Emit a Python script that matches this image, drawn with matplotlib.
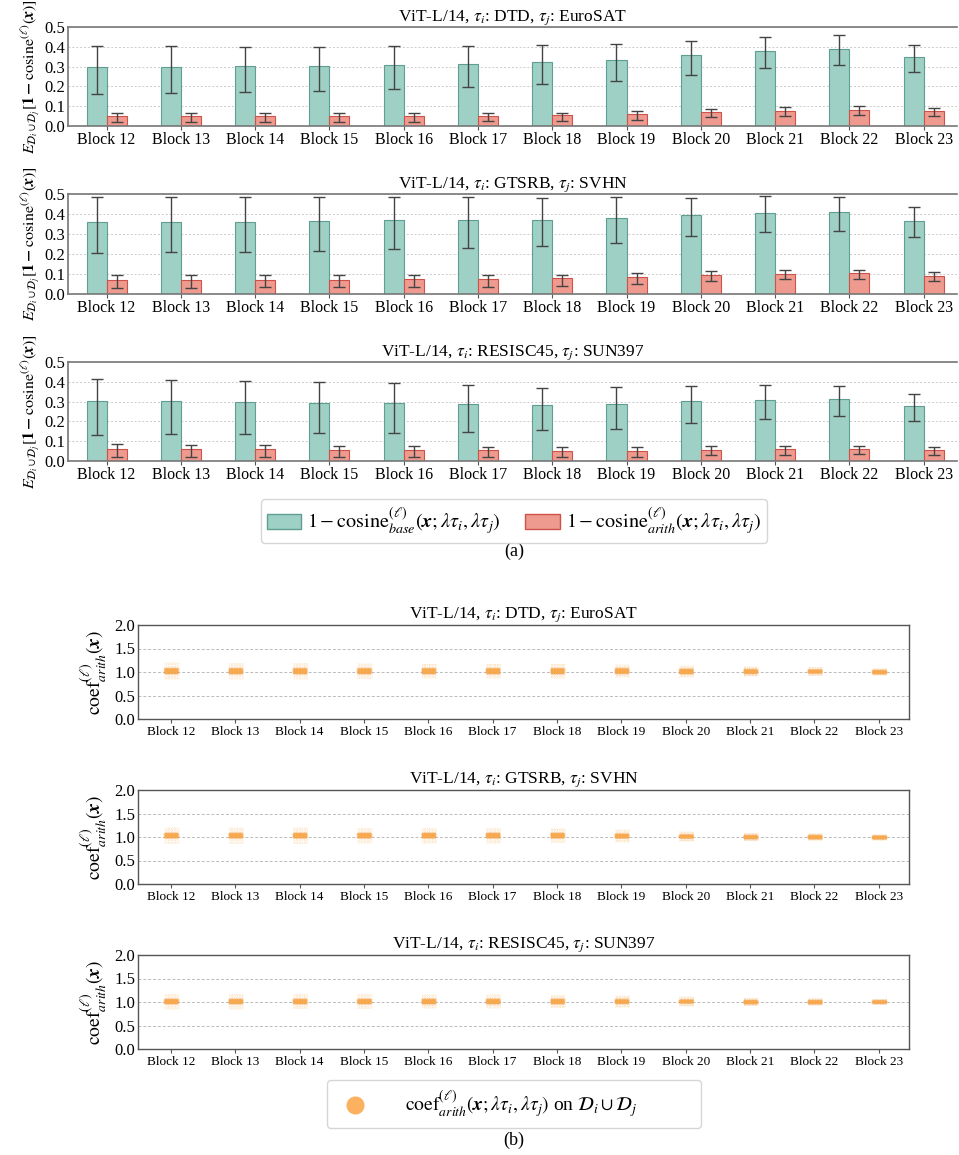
import numpy as np
import matplotlib
matplotlib.use("Agg")
import matplotlib.pyplot as plt
from matplotlib.patches import Patch
from matplotlib.lines import Line2D

plt.rcParams['font.family'] = ['Liberation Serif', 'DejaVu Serif']
plt.rcParams['mathtext.fontset'] = 'stix'

blocks = ["Block %d" % b for b in range(12, 24)]
titles = [r"ViT-L/14, $\tau_i$: DTD, $\tau_j$: EuroSAT",
          r"ViT-L/14, $\tau_i$: GTSRB, $\tau_j$: SVHN",
          r"ViT-L/14, $\tau_i$: RESISC45, $\tau_j$: SUN397"]

# (a) 1 - cosine per block: bar height, error bar low end, error bar high end
base_mean = [
    [0.299, 0.299, 0.302, 0.305, 0.310, 0.315, 0.322, 0.334, 0.357, 0.381, 0.391, 0.349],
    [0.358, 0.360, 0.360, 0.363, 0.368, 0.370, 0.372, 0.380, 0.395, 0.407, 0.408, 0.365],
    [0.302, 0.302, 0.297, 0.295, 0.292, 0.287, 0.282, 0.290, 0.302, 0.309, 0.314, 0.280],
]
base_lo = [
    [0.163, 0.168, 0.171, 0.178, 0.186, 0.195, 0.210, 0.227, 0.260, 0.292, 0.307, 0.275],
    [0.203, 0.208, 0.212, 0.217, 0.225, 0.232, 0.238, 0.255, 0.288, 0.310, 0.315, 0.283],
    [0.131, 0.134, 0.136, 0.139, 0.143, 0.148, 0.156, 0.164, 0.190, 0.210, 0.225, 0.200],
]
base_hi = [
    [0.404, 0.404, 0.399, 0.399, 0.404, 0.404, 0.409, 0.416, 0.431, 0.451, 0.460, 0.409],
    [0.487, 0.487, 0.487, 0.487, 0.487, 0.487, 0.482, 0.487, 0.482, 0.490, 0.485, 0.433],
    [0.413, 0.409, 0.404, 0.398, 0.393, 0.383, 0.371, 0.374, 0.381, 0.384, 0.381, 0.340],
]
arith_mean = [
    [0.052, 0.052, 0.052, 0.052, 0.052, 0.052, 0.054, 0.059, 0.069, 0.077, 0.082, 0.074],
    [0.070, 0.070, 0.071, 0.071, 0.073, 0.075, 0.078, 0.083, 0.093, 0.102, 0.103, 0.092],
    [0.062, 0.060, 0.059, 0.058, 0.056, 0.054, 0.052, 0.053, 0.057, 0.060, 0.060, 0.054],
]
arith_lo = [
    [0.020, 0.020, 0.020, 0.021, 0.021, 0.023, 0.027, 0.030, 0.044, 0.050, 0.055, 0.050],
    [0.032, 0.032, 0.033, 0.033, 0.035, 0.037, 0.040, 0.050, 0.063, 0.073, 0.075, 0.067],
    [0.018, 0.020, 0.020, 0.020, 0.020, 0.020, 0.020, 0.022, 0.028, 0.032, 0.034, 0.030],
]
arith_hi = [
    [0.067, 0.067, 0.066, 0.066, 0.066, 0.066, 0.067, 0.074, 0.084, 0.094, 0.099, 0.091],
    [0.093, 0.093, 0.093, 0.093, 0.094, 0.095, 0.097, 0.103, 0.113, 0.122, 0.122, 0.108],
    [0.084, 0.082, 0.080, 0.078, 0.075, 0.072, 0.069, 0.070, 0.074, 0.075, 0.074, 0.069],
]

# (b) coef_arith per block: centre, dense half-spread, faint half-spread
coef_mid = [
    [1.03, 1.03, 1.03, 1.03, 1.03, 1.03, 1.03, 1.03, 1.02, 1.02, 1.02, 1.01],
    [1.04, 1.04, 1.04, 1.04, 1.04, 1.04, 1.04, 1.03, 1.02, 1.01, 1.01, 1.00],
    [1.02, 1.02, 1.02, 1.02, 1.02, 1.02, 1.02, 1.02, 1.02, 1.01, 1.01, 1.01],
]
coef_core = [
    [0.05, 0.05, 0.05, 0.05, 0.05, 0.05, 0.05, 0.045, 0.04, 0.035, 0.03, 0.025],
    [0.05, 0.05, 0.05, 0.05, 0.05, 0.05, 0.045, 0.04, 0.03, 0.025, 0.025, 0.02],
    [0.045, 0.045, 0.045, 0.045, 0.045, 0.045, 0.04, 0.035, 0.03, 0.025, 0.025, 0.02],
]
coef_tail = [
    [0.18, 0.17, 0.17, 0.16, 0.15, 0.15, 0.15, 0.13, 0.12, 0.10, 0.09, 0.07],
    [0.17, 0.17, 0.17, 0.16, 0.16, 0.16, 0.15, 0.13, 0.10, 0.08, 0.07, 0.06],
    [0.16, 0.16, 0.15, 0.15, 0.14, 0.14, 0.13, 0.12, 0.10, 0.08, 0.07, 0.06],
]

W, H = 959, 1155
fig = plt.figure(figsize=(W / 100, H / 100), dpi=100)


def box(l, r, t, b):
    return [l / W, 1 - b / H, (r - l) / W, (b - t) / H]


teal, teal_e = '#9ed0c5', '#5f9e90'
red, red_e = '#ee9a8f', '#cf5249'
x = np.arange(len(blocks))
bw = 0.27
ekw = dict(ecolor='#444444', elinewidth=1, capthick=1)

for k, (t, b) in enumerate([(27, 126), (194, 294), (362, 461)]):
    ax = fig.add_axes(box(68, 957, t, b))
    bm, am = np.array(base_mean[k]), np.array(arith_mean[k])
    ax.bar(x - bw / 2, bm, bw, yerr=[bm - np.array(base_lo[k]), np.array(base_hi[k]) - bm],
           color=teal, edgecolor=teal_e, linewidth=0.8, capsize=4, error_kw=ekw)
    ax.bar(x + bw / 2, am, bw, yerr=[am - np.array(arith_lo[k]), np.array(arith_hi[k]) - am],
           color=red, edgecolor=red_e, linewidth=0.8, capsize=4, error_kw=ekw)
    ax.set_ylim(0, 0.5)
    ax.set_xlim(-0.52, 11.45)
    ax.set_yticks([0, 0.1, 0.2, 0.3, 0.4, 0.5])
    ax.set_yticklabels(["0.0", "0.1", "0.2", "0.3", "0.4", "0.5"], fontsize=12)
    ax.set_xticks(x)
    ax.set_xticklabels(blocks, fontsize=11.5)
    ax.tick_params(axis='x', length=3, pad=1, color='#555555')
    ax.tick_params(axis='y', length=0, pad=2)
    ax.yaxis.grid(True, linestyle=(0, (2, 2)), color='#cccccc', linewidth=0.7)
    ax.set_axisbelow(True)
    for s in ['left', 'bottom', 'top']:
        ax.spines[s].set_color('#777777')
        ax.spines[s].set_linewidth(1.2)
    ax.spines['right'].set_visible(False)
    ax.set_title(titles[k], fontsize=12.5, pad=3)
    ax.set_ylabel(r"$E_{\mathcal{D}_i\cup\mathcal{D}_j}[\mathbf{1-}\mathrm{cosine}^{(\ell)}(\boldsymbol{x})]$",
                  fontsize=11.5, labelpad=1)

leg_a = [Patch(facecolor=teal, edgecolor=teal_e,
               label=r"$1-\mathrm{cosine}^{(\ell)}_{base}(\boldsymbol{x};\lambda\tau_i,\lambda\tau_j)$"),
         Patch(facecolor=red, edgecolor=red_e,
               label=r"$1-\mathrm{cosine}^{(\ell)}_{arith}(\boldsymbol{x};\lambda\tau_i,\lambda\tau_j)$")]
fig.legend(handles=leg_a, loc='center', bbox_to_anchor=(514 / W, 1 - 521 / H), ncol=2,
           fontsize=14.5, frameon=True, edgecolor='#cccccc', fancybox=True,
           handlelength=1.7, handleheight=0.8, handletextpad=0.3, columnspacing=1.2,
           borderpad=0.3)
fig.text(514 / W, 1 - 551 / H, "(a)", ha='center', va='center', fontsize=13)

orange = '#f7a94f'
gx = np.linspace(-0.1, 0.1, 22)
gc = np.linspace(-1, 1, 13)
gt = np.linspace(-1, 1, 31)
for k, (t, b) in enumerate([(625, 719), (790, 884), (955, 1049)]):
    ax = fig.add_axes(box(138, 909, t, b))
    for i in range(len(blocks)):
        # faint halo, staggered rows so it reads as a cloud
        xx, yy = np.meshgrid(i + gx[::3], coef_mid[k][i] + coef_tail[k][i] * gt)
        xx = xx + (np.arange(len(gt))[:, None] % 3) * 0.01
        ax.scatter(xx.ravel(), yy.ravel(), s=0.4, color=orange, alpha=0.12, linewidths=0)
        xx, yy = np.meshgrid(i + gx, coef_mid[k][i] + coef_core[k][i] * gc)
        xx = xx + (np.arange(len(gc))[:, None] % 2) * 0.005
        ax.scatter(xx.ravel(), yy.ravel(), s=1.5, color=orange, alpha=0.3, linewidths=0)
    ax.set_ylim(0, 2.0)
    ax.set_xlim(-0.51, 11.47)
    ax.set_yticks([0, 0.5, 1.0, 1.5, 2.0])
    ax.set_yticklabels(["0.0", "0.5", "1.0", "1.5", "2.0"], fontsize=12)
    ax.set_xticks(x)
    ax.set_xticklabels(blocks, fontsize=9.5)
    ax.tick_params(axis='x', length=3, pad=2, color='#555555')
    ax.tick_params(axis='y', length=0, pad=2)
    ax.yaxis.grid(True, linestyle=(0, (3, 2)), color='#bbbbbb', linewidth=0.7)
    ax.set_axisbelow(True)
    for s in ax.spines.values():
        s.set_color('#555555')
        s.set_linewidth(1.0)
    ax.set_title(titles[k], fontsize=12.5, pad=5)
    ax.set_ylabel(r"$\mathrm{coef}^{(\ell)}_{arith}(\boldsymbol{x})$", fontsize=14, labelpad=4)

leg_b = [Line2D([], [], marker='o', linestyle='none', markersize=12, color='#fbb160',
                label=r"$\mathrm{coef}^{(\ell)}_{arith}(\boldsymbol{x};\lambda\tau_i,\lambda\tau_j)$ on $\mathcal{D}_i\cup\mathcal{D}_j$" + "            ")]
fig.legend(handles=leg_b, loc='center', bbox_to_anchor=(514 / W, 1 - 1104 / H),
           fontsize=14, frameon=True, edgecolor='#cccccc', fancybox=True,
           handlelength=2, handletextpad=1.6, borderpad=0.45, borderaxespad=0)
fig.text(514 / W, 1 - 1140 / H, "(b)", ha='center', va='center', fontsize=13)

fig.savefig("out.png", dpi=100)
